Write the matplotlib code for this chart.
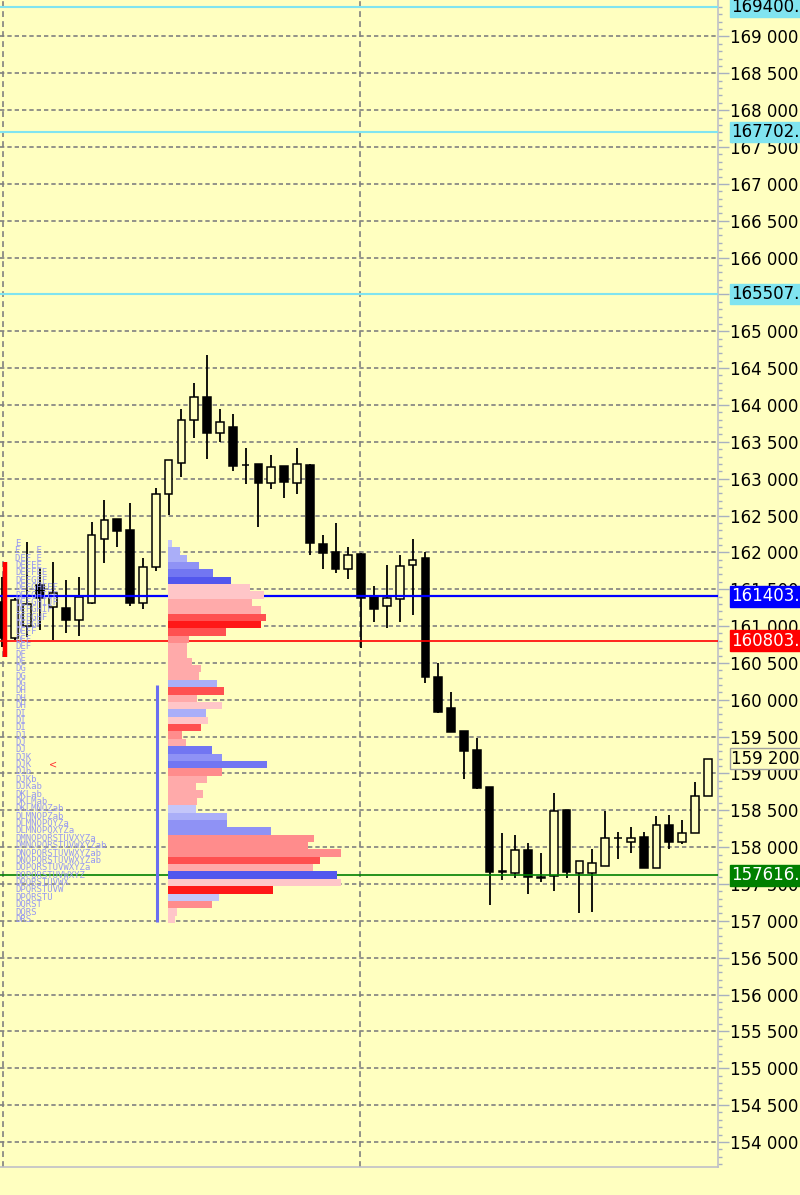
import numpy as np
import matplotlib.pyplot as plt
from matplotlib.ticker import MultipleLocator, FuncFormatter
from matplotlib.transforms import blended_transform_factory

BG = '#ffffc0'

# candles, numbered -4 .. 51 from left to right
bar_index = np.arange(-4, 52)
opens = [161330, 160840, 161000, 161560, 161260, 161245, 161080, 161310, 162175, 162450,
         162305, 161310, 161805, 162790, 163215, 163795, 164105, 163625, 163695, 163180,
         163200, 162935, 163175, 162935, 163185, 162115, 162005, 161770, 161980, 161390,
         161275, 161365, 161830, 161930, 160315, 159885, 159575, 159320, 158820, 157680,
         157645, 157960, 157600, 157610, 158505, 157655, 157655, 157745, 158120, 158075,
         158135, 157720, 158300, 158075, 158195, 158695]
highs = [161670, 161380, 162145, 161790, 161875, 161625, 161665, 162415, 162710, 162455,
         162665, 161920, 162870, 163255, 163940, 164300, 164680, 163940, 163875, 163420,
         163200, 163320, 163175, 163420, 163200, 162235, 162405, 162070, 161990, 161545,
         161830, 161965, 162180, 162000, 160505, 160100, 159575, 159485, 158820, 158190,
         158165, 158060, 157925, 158730, 158505, 157815, 157970, 158490, 158200, 158280,
         158200, 158425, 158435, 158370, 158890, 159190]
lows = [160720, 160810, 160855, 160945, 160810, 160910, 160865, 161295, 161860, 162075,
        161270, 161230, 161750, 162505, 163025, 163550, 163265, 163500, 163105, 162930,
        162340, 162860, 162740, 162790, 161965, 161770, 161715, 161635, 160700, 161060,
        160970, 161060, 161150, 160225, 159825, 159565, 158920, 158790, 157215, 157555,
        157580, 157365, 157530, 157410, 157580, 157105, 157125, 157745, 157835, 157915,
        157720, 157720, 157970, 158045, 158195, 158695]
closes = [160835, 161355, 161300, 161380, 161450, 161080, 161400, 162235, 162440, 162295,
          161310, 161805, 162790, 163255, 163795, 164105, 163625, 163775, 163170, 163190,
          162935, 163155, 162960, 163200, 162130, 161990, 161770, 161965, 161375, 161230,
          161375, 161820, 161895, 160305, 159840, 159565, 159310, 158800, 157665, 157660,
          157960, 157590, 157580, 158490, 157665, 157815, 157780, 158130, 158125, 158130,
          157720, 158300, 158075, 158195, 158695, 159190]

# levels
cyan_levels = [169400, 167702, 165507]
blue_level = 161403
red_level = 160803
poc_level = 157616
last_price = 159200
va_low, va_high = 156985, 160200
ib_low, ib_high = 160580, 161870
marker_price = 159115

# volume profile, rows of 100 from the top row down
vp_levels = np.arange(162120, 156920, -100)
vp_volume = [4, 12, 19, 31, 45, 63, 82, 96, 84, 93,
             98, 93, 58, 21, 19, 19, 24, 33, 31, 49,
             56, 29, 54, 38, 40, 33, 14, 18, 44, 54,
             99, 54, 39, 28, 35, 29, 28, 59, 59, 103,
             146, 140, 173, 152, 145, 169, 173, 105, 51, 44,
             9, 7]
vp_delta = [1, 2, 2, 3, 4, 5, -1, -1, -2, -2,
            -4, -5, -4, -3, -2, -2, -2, -2, -2, 2,
            -4, -2, -1, 2, -1, -4, -3, -2, 4, 3,
            4, -3, -2, -2, -2, -2, 1, 2, 3, 3,
            -3, -3, -3, -4, -2, 5, -1, -5, 1, -3,
            -1, -1]

# TPO letters, same rows as the volume profile
tpo_rows = ["E", "E   E", "DEF E", "DEFEE", "DEFFEE", "DEFGEF", "DEFGHEEF", "DEFGHIEF",
            "DEFGHIJF", "DEFGHIF", "DEFGHF", "DEFGF", "DEFF", "DEF", "DEF", "DF", "DF",
            "DG", "DG", "DG", "DH", "DH", "DH", "DI", "DI", "DI", "DJ", "DJ", "DJ",
            "DJK", "DJK", "DJb", "DJKb", "DJKab", "DKLab", "DKLMab", "DKLMNOZab",
            "DLMNOPZab", "DLMNOPQYZa", "DLMNOPQXYZa", "DMNOPQRSTUVXYZa",
            "DMNOPQRSTUVWXYZab", "DNOPQRSTUVWXYZab", "DNOPQRSTUVWXYZab",
            "DOPQRSTUVWXYZa", "DOPQRSTUVWXYZ", "DPQRSTUVWX", "DPQRSTUVW", "DPQRSTU",
            "DQRST", "DQRS", "DRS"]

blues = {1: '#c4c6fa', 2: '#aaaef8', 3: '#8f92f5', 4: '#7276f2', 5: '#5257ee'}
reds = {1: '#ffc6c8', 2: '#ffaaaa', 3: '#ff8c8c', 4: '#ff5050', 5: '#ff1818'}
vp_colors = [blues[d] if d > 0 else reds[-d] for d in vp_delta]

fig = plt.figure(figsize=(8, 11.95), dpi=100, facecolor=BG)
ax = fig.add_axes([0, 28 / 1195, 718 / 800, 1167 / 1195], facecolor=BG)
ax.set_xlim(-4.13, 51.79)
ax.set_ylim(153660, 169495)

# grid
dash = (0, (2.6, 1.8))
for p in range(154000, 169500, 500):
    ax.axhline(p, color='#808080', lw=1.2, ls=dash, zorder=0.5)
for xv in [-3.89, 23.91]:
    ax.axvline(xv, color='#808080', lw=1.2, ls=(0, (3.5, 2.5)), zorder=0.5)

# candles
ax.vlines(bar_index, lows, highs, color='black', lw=1.3, zorder=2)
up = [c >= o for o, c in zip(opens, closes)]
ax.bar(bar_index, np.array(closes) - np.array(opens), bottom=opens, width=0.6,
       color=[BG if u else 'black' for u in up], edgecolor='black',
       linewidth=1.1, zorder=3)

# levels
for lv in cyan_levels:
    ax.axhline(lv, color='#80e4f0', lw=1.5, zorder=4)
ax.axhline(blue_level, color='#0000ff', lw=1.6, zorder=4)
ax.axhline(red_level, color='#ff0000', lw=1.2, zorder=4)
ax.axhline(poc_level, color='#008000', lw=1.2, zorder=4)

tr = blended_transform_factory(ax.transAxes, ax.transData)
ax.vlines(5 / 718, ib_low, ib_high, color='#ff0000', lw=3.2, transform=tr, zorder=5)
for lv, s in zip(vp_levels, tpo_rows):
    ax.text(15 / 718, lv, s, transform=tr, ha='left', va='center',
            family='DejaVu Sans Mono', fontsize=6.5, color='#9698f2', zorder=6)
ax.text(49 / 718, marker_price, '<', transform=tr, ha='left', va='center',
        fontsize=7, color='#ff3030', zorder=6)

# right price scale
ax.yaxis.tick_right()
ax.yaxis.set_major_locator(MultipleLocator(500))
ax.yaxis.set_minor_locator(MultipleLocator(100))
ax.yaxis.set_major_formatter(FuncFormatter(lambda v, p: f'{v:,.0f}'.replace(',', ' ')))
ax.tick_params(axis='y', which='major', length=8, width=1, color='#a8b0c0',
               pad=1, labelsize=12, labelcolor='black')
ax.tick_params(axis='y', which='minor', length=3, width=1, color='#a8b0c0')
ax.tick_params(axis='x', bottom=False, labelbottom=False)
for side in ['left', 'top']:
    ax.spines[side].set_visible(False)
for side in ['right', 'bottom']:
    ax.spines[side].set_color('#c0c0c8')
    ax.spines[side].set_linewidth(1.2)

labels = [(169400, '169400.', '#80e4f0', 'black', '#80e4f0'),
          (167702, '167702.', '#80e4f0', 'black', '#80e4f0'),
          (165507, '165507.', '#80e4f0', 'black', '#80e4f0'),
          (blue_level, '161403.', '#0000ff', 'white', '#0000ff'),
          (red_level, '160803.', '#ff0000', 'white', '#ff0000'),
          (poc_level, '157616.', '#008000', 'white', '#008000'),
          (last_price, '159 200', BG, 'black', '#a0a0a0')]
for p, s, fc, tc, ec in labels:
    ax.text(731 / 718, p, s, transform=tr, ha='left', va='center', fontsize=12,
            color=tc, clip_on=False, zorder=10,
            bbox=dict(boxstyle='square,pad=0.08', fc=fc, ec=ec, lw=1))

# volume profile overlay
ax_vp = fig.add_axes(ax.get_position(), sharey=ax, facecolor='none')
ax_vp.set_xlim(-168, 550)
ax_vp.axis('off')
ax_vp.barh(vp_levels, vp_volume, height=100, left=0, color=vp_colors, zorder=2)
ax_vp.vlines(-11, va_low, va_high, color='#6a6ef0', lw=2.2, zorder=2)

fig.savefig('out.png', dpi=100, facecolor=BG)
